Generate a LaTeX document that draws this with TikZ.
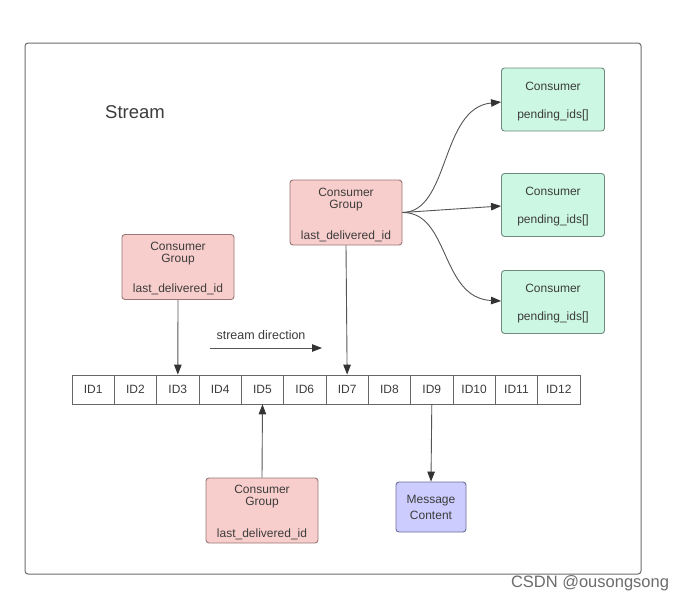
\documentclass[tikz,border=0pt]{standalone}
\usepackage{fontspec}
\setmainfont{Liberation Sans}
\usetikzlibrary{arrows.meta}
\definecolor{redfill}{HTML}{F8CECC}
\definecolor{redline}{HTML}{9A7676}
\definecolor{greenfill}{HTML}{CCF7E2}
\definecolor{greenline}{HTML}{6F8A7E}
\definecolor{bluefill}{HTML}{CCCCFF}
\definecolor{blueline}{HTML}{6E6E9A}
\definecolor{txt}{HTML}{3C3C3C}
\definecolor{wire}{HTML}{555555}
\definecolor{tipc}{HTML}{333333}
\begin{document}
\begin{tikzpicture}[x=1pt,y=-1pt,
  every node/.style={text=txt,font=\fontsize{12}{13}\selectfont},
  groupbox/.style={draw=redline,fill=redfill,rounded corners=3pt,line width=0.9pt,minimum width=112pt,minimum height=65pt,inner sep=0pt},
  consbox/.style={draw=greenline,fill=greenfill,rounded corners=3pt,line width=0.9pt,minimum width=103pt,minimum height=63pt,inner sep=0pt},
  msgbox/.style={draw=blueline,fill=bluefill,rounded corners=3pt,line width=0.9pt,minimum width=70pt,minimum height=50pt,inner sep=0pt},
  cell/.style={draw=gray!80!black,fill=white,line width=0.8pt,minimum width=42.33pt,minimum height=29pt,inner sep=0pt},
  conn/.style={draw=wire,line width=0.9pt},
  arr/.style={conn,-{Triangle[length=10pt,width=7.5pt,color=tipc]}}
]
\useasboundingbox (0,0) rectangle (694,603);
\fill[white] (0,0) rectangle (694,603);
% frame
\draw[draw=gray!85!black,line width=1pt,rounded corners=3pt] (25,43) rectangle (641,574);
\node[font=\fontsize{18.5}{20}\selectfont] (title) at (135,112) {Stream};

% ID row
\foreach \i in {1,...,12}{
  \node[cell] (id\i) at ({72+(\i-0.5)*42.33},389.5) {ID\i};
}

% consumer groups
\node[groupbox] (gl) at (178,267) {};
\node at (178,246) {Consumer};
\node at (178,260) {Group};
\node at (178,289) {last\_delivered\_id};

\node[groupbox] (gm) at (346,212.5) {};
\node at (346,192) {Consumer};
\node at (346,206) {Group};
\node at (346,236) {last\_delivered\_id};

\node[groupbox] (gb) at (262,510.5) {};
\node at (262,489) {Consumer};
\node at (262,503) {Group};
\node at (262,534) {last\_delivered\_id};

% message content
\node[msgbox] (msg) at (431,507) {};
\node at (431,501) {Message};
\node at (431,515) {Content};

% consumers
\node[consbox] (c1) at (553,99.5) {};
\node at (553,86) {Consumer};
\node at (553,115) {pending\_ids[]};
\node[consbox] (c2) at (553,205) {};
\node at (553,191.5) {Consumer};
\node at (553,220.5) {pending\_ids[]};
\node[consbox] (c3) at (553,302) {};
\node at (553,288.5) {Consumer};
\node at (553,317.5) {pending\_ids[]};

% connectors
\draw[arr] (gl.south) -- (id3.north);
\draw[arr] (gm.south) -- (id7.north);
\draw[arr] (gb.north) -- (id5.south);
\draw[arr] (id9.south) -- (msg.north);

\coordinate (src) at (gm.east);
\draw[arr] (src) .. controls (450,212) and (440,108) .. (c1.west |- 0,102);
\draw[arr] (src) -- (c2.west |- 0,206);
\draw[arr] (src) .. controls (450,212) and (440,298) .. (c3.west |- 0,301);

% stream direction
\node[font=\fontsize{12.5}{13}\selectfont] (sdl) at (261,335) {stream direction};
\coordinate (sd1) at (210,348);
\coordinate (sd2) at (322,348);
\draw[arr] (sd1) -- (sd2);

% watermark
\node[text=gray!85!black,font=\fontsize{16.5}{18}\selectfont] (wm) at (590,583) {CSDN @ousongsong};
\end{tikzpicture}
\end{document}
